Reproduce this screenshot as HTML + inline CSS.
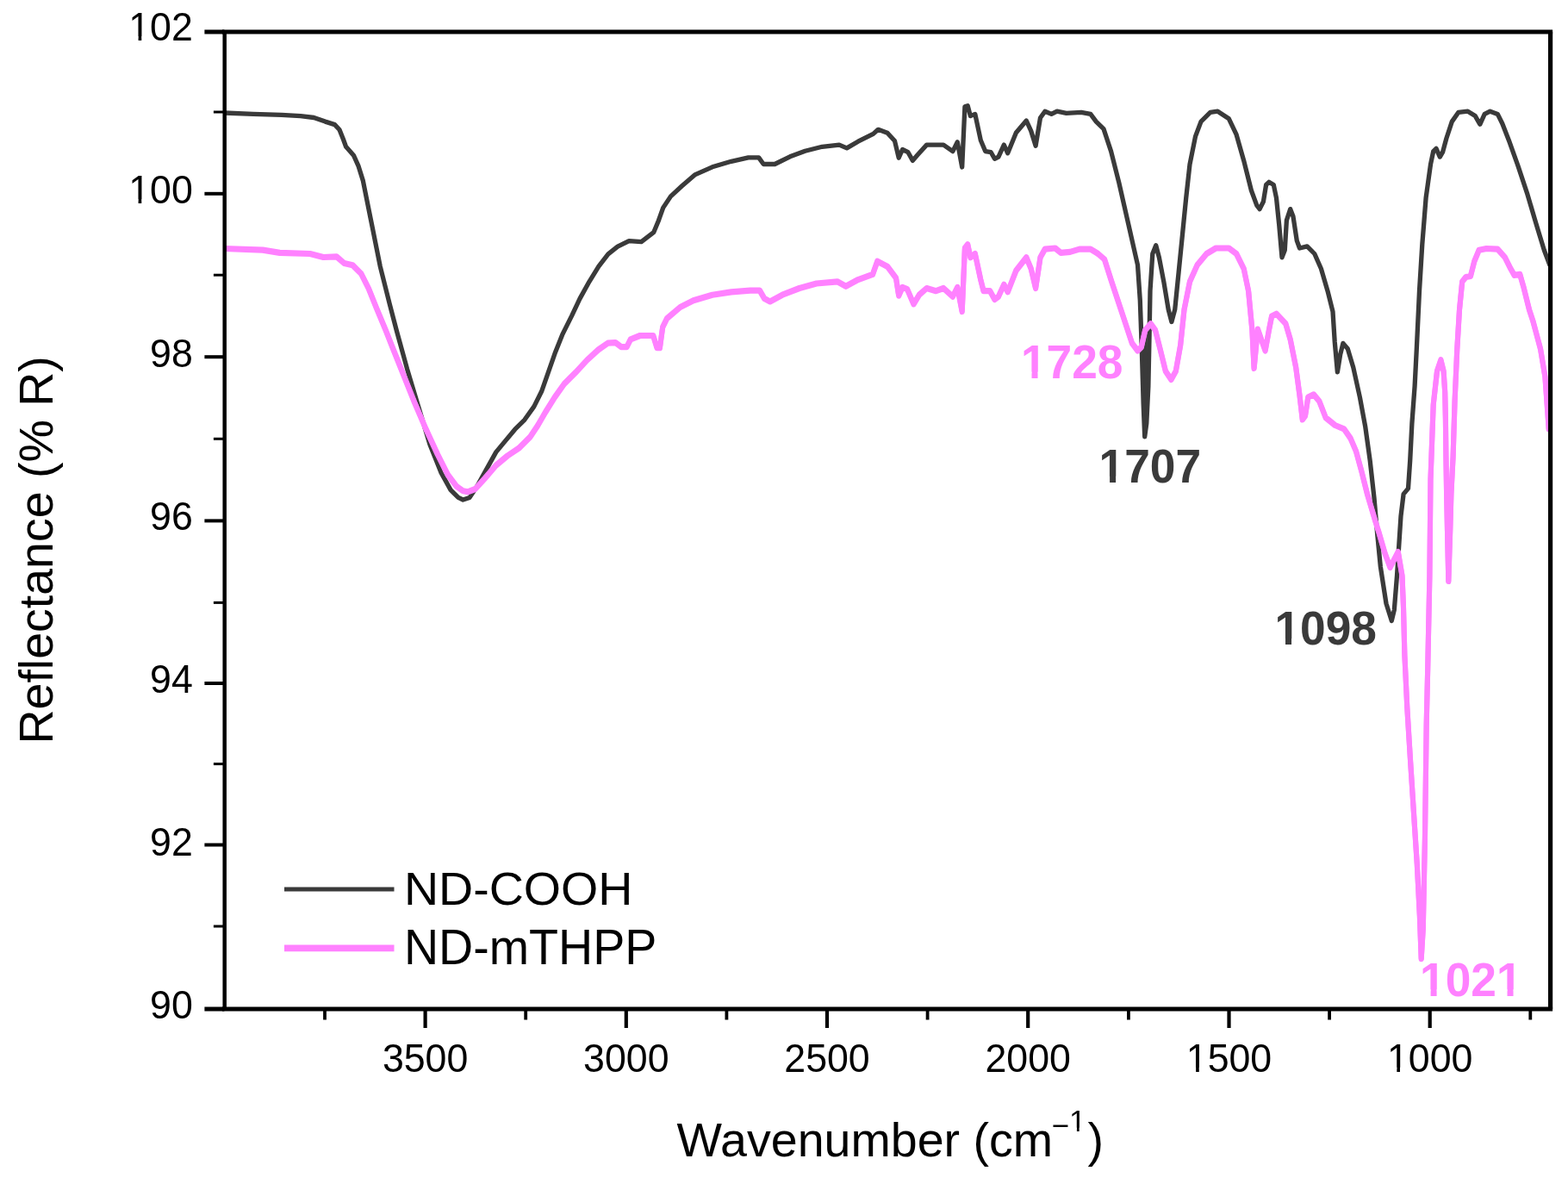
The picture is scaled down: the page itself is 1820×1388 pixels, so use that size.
<!DOCTYPE html>
<html lang="en"><head><meta charset="utf-8"><title>FTIR spectra: ND-COOH vs ND-mTHPP</title>
<style>
html,body{margin:0;padding:0;background:#ffffff;}
body{width:1820px;height:1388px;overflow:hidden;}
svg{display:block;}
text{font-family:"Liberation Sans",sans-serif;fill:#000;}
.tk{font-size:44.7px;}
.ti{font-size:55.6px;}
.lg{font-size:55.6px;}
.pk{font-size:53.3px;font-weight:bold;}
.ax{stroke:#000000;stroke-width:5.0;fill:none;stroke-linecap:butt;}
.cv{fill:none;stroke-linejoin:round;stroke-linecap:round;}
</style></head><body>
<svg width="1820" height="1388" viewBox="0 0 1820 1388">
<rect x="0" y="0" width="1820" height="1388" fill="#ffffff"/>
<defs><clipPath id="plot"><rect x="260.4" y="37.0" width="1539.2" height="1134.0"/></clipPath></defs>
<g clip-path="url(#plot)">
<path class="cv" stroke="#3a3a3a" stroke-width="5.3" d="M260.4 131.0 L294.0 132.3 L326.9 133.4 L348.9 134.7 L364.3 136.5 L377.5 141.1 L388.5 144.6 L394.0 150.5 L398.4 161.5 L401.6 170.3 L410.4 180.2 L415.9 192.3 L421.4 209.9 L425.8 231.9 L432.4 264.8 L441.2 308.8 L452.2 352.7 L460.4 384.0 L472.5 427.9 L485.7 471.9 L498.9 515.8 L512.1 548.8 L523.1 568.6 L531.9 577.4 L537.4 580.0 L545.1 577.4 L553.8 564.2 L564.8 544.4 L575.8 524.6 L586.8 511.4 L597.8 498.2 L608.8 487.3 L619.8 471.9 L628.6 454.3 L636.3 432.3 L644.0 410.3 L652.7 388.4 L663.7 366.4 L673.0 346.6 L684.0 326.8 L694.9 309.2 L705.9 294.9 L716.9 286.2 L730.1 279.6 L744.4 280.7 L758.7 269.7 L764.2 256.5 L769.7 241.1 L778.5 227.9 L791.6 215.8 L807.0 202.6 L826.8 193.8 L848.8 187.3 L868.6 182.9 L880.7 182.9 L886.2 190.5 L899.3 190.5 L916.9 181.8 L934.5 175.2 L954.3 170.3 L974.1 168.1 L982.9 171.9 L996.0 164.2 L1013.6 155.4 L1019.3 150.3 L1030.0 154.2 L1038.5 163.5 L1043.2 183.2 L1047.5 173.5 L1054.0 176.7 L1059.4 186.4 L1064.8 180.0 L1075.6 168.1 L1095.1 168.1 L1105.9 175.6 L1111.3 164.8 L1116.7 194.0 L1119.9 123.8 L1123.2 122.7 L1126.4 134.6 L1131.8 132.4 L1138.3 162.7 L1143.7 175.6 L1150.2 176.7 L1154.5 184.3 L1158.9 182.1 L1165.3 168.1 L1169.7 177.8 L1179.4 154.0 L1191.3 140.0 L1196.7 151.9 L1202.1 169.2 L1207.5 136.7 L1212.9 129.2 L1220.4 132.4 L1226.9 129.2 L1237.7 131.3 L1255.0 130.3 L1265.8 132.4 L1272.3 141.1 L1281.0 149.7 L1289.6 175.6 L1298.9 212.4 L1309.7 259.9 L1320.5 307.5 L1323.3 348.5 L1325.3 404.8 L1327.2 469.7 L1328.7 506.8 L1330.8 491.3 L1332.9 448.0 L1334.2 383.2 L1335.0 337.7 L1337.8 294.5 L1341.7 284.8 L1345.4 298.8 L1350.8 326.9 L1356.2 359.4 L1359.9 373.5 L1363.7 359.4 L1368.1 316.1 L1372.4 272.9 L1376.7 229.7 L1381.0 190.8 L1387.5 158.4 L1394.0 141.1 L1404.8 130.3 L1413.4 129.2 L1426.4 137.8 L1435.1 156.2 L1443.7 186.4 L1452.4 221.0 L1458.8 238.3 L1462.1 242.6 L1466.4 234.0 L1469.6 214.5 L1472.9 211.3 L1478.3 214.5 L1481.5 229.7 L1484.8 262.1 L1488.0 298.8 L1491.3 290.2 L1493.4 255.6 L1497.7 242.6 L1501.0 251.3 L1505.3 279.4 L1508.5 288.0 L1517.2 285.9 L1525.8 294.5 L1533.4 311.8 L1541.0 337.7 L1547.0 361.6 L1549.2 396.2 L1552.4 431.9 L1555.7 411.3 L1558.9 398.4 L1564.3 404.8 L1570.8 426.5 L1578.4 461.0 L1584.8 495.6 L1590.2 534.5 L1595.0 577.7 L1598.8 621.0 L1602.3 657.3 L1609.0 700.5 L1615.3 720.5 L1618.3 708.0 L1621.5 668.1 L1624.3 624.8 L1626.0 599.0 L1629.1 573.4 L1634.5 566.9 L1636.7 534.5 L1638.9 491.3 L1642.1 448.1 L1644.3 404.8 L1647.5 337.7 L1650.8 283.7 L1655.1 229.7 L1660.5 190.8 L1663.7 175.6 L1667.0 172.4 L1671.3 182.1 L1674.5 176.7 L1678.9 160.5 L1685.3 141.1 L1692.9 130.3 L1703.7 129.2 L1712.3 134.6 L1717.8 144.3 L1723.2 132.4 L1729.6 129.2 L1738.3 132.4 L1743.7 143.2 L1751.3 162.7 L1762.1 192.9 L1772.9 225.4 L1783.7 262.1 L1792.3 290.2 L1798.8 307.5"/>
<path class="cv" stroke="#3a3a3a" stroke-width="4.6" d="M1329.5 386 L1329.6 440 L1329.2 496"/>
<path class="cv" stroke="#ff81ff" stroke-width="6.1" transform="translate(0 -0.55)" d="M260.4 288.5 L305.0 290.1 L324.7 293.4 L359.9 294.5 L375.3 298.5 L390.7 297.8 L399.5 305.5 L409.3 307.7 L419.2 317.6 L428.0 335.2 L436.8 357.1 L447.8 383.5 L454.9 401.5 L468.1 434.5 L481.3 467.5 L494.5 498.2 L507.7 526.8 L519.8 551.0 L529.7 564.2 L537.4 569.7 L542.9 570.8 L551.6 567.5 L562.6 555.4 L575.8 540.0 L589.0 529.0 L602.2 520.2 L615.4 507.0 L624.2 493.8 L633.0 478.5 L644.0 460.9 L654.9 445.5 L668.1 432.3 L681.3 418.0 L694.5 405.9 L705.5 398.2 L714.3 397.6 L720.9 402.6 L727.5 402.6 L731.9 393.8 L742.9 389.5 L758.2 389.5 L762.6 403.7 L765.9 403.7 L769.2 379.6 L774.1 369.7 L789.5 356.5 L804.8 348.8 L826.8 342.2 L848.8 338.9 L870.8 337.1 L881.8 337.1 L887.3 346.6 L893.8 349.9 L908.1 342.2 L927.9 334.5 L947.7 329.0 L971.9 326.8 L981.8 332.3 L996.0 324.6 L1013.0 318.3 L1018.4 303.2 L1030.3 309.6 L1040.0 322.6 L1043.2 343.1 L1047.5 333.4 L1053.0 335.6 L1060.5 352.9 L1067.0 342.1 L1075.6 334.5 L1086.4 337.7 L1095.1 334.5 L1105.9 344.2 L1111.3 333.4 L1116.7 361.5 L1119.9 288.0 L1123.2 283.7 L1126.4 298.8 L1131.8 294.5 L1138.3 324.8 L1141.6 337.7 L1149.1 337.7 L1154.5 347.5 L1158.9 344.2 L1165.3 330.2 L1169.7 338.8 L1179.4 314.0 L1191.3 298.8 L1196.7 311.8 L1202.1 334.5 L1207.5 298.8 L1212.9 289.1 L1224.8 288.0 L1231.3 293.4 L1242.1 292.4 L1252.9 289.1 L1265.8 289.1 L1274.5 294.5 L1282.0 301.0 L1290.3 326.9 L1301.1 359.4 L1314.0 398.4 L1320.5 407.0 L1324.8 402.7 L1329.2 383.2 L1335.6 375.7 L1341.0 383.2 L1346.5 404.8 L1352.9 430.8 L1359.4 440.5 L1364.8 430.8 L1370.2 400.5 L1374.5 359.4 L1381.0 326.9 L1389.7 307.5 L1400.5 294.5 L1411.3 288.0 L1426.4 288.0 L1435.1 294.5 L1443.7 311.8 L1449.1 337.7 L1453.4 383.2 L1455.6 427.5 L1459.9 382.1 L1468.6 407.0 L1472.9 383.2 L1476.1 367.0 L1481.5 364.2 L1492.3 375.7 L1497.7 394.0 L1504.2 426.5 L1508.5 458.9 L1511.8 487.0 L1515.0 482.6 L1518.3 461.0 L1524.8 457.8 L1531.2 465.4 L1538.8 484.8 L1549.6 493.5 L1560.0 497.8 L1567.5 508.6 L1574.0 523.7 L1580.5 547.5 L1587.0 573.4 L1596.0 603.7 L1600.5 618.0 L1607.5 642.1 L1613.5 658.5 L1622.8 640.5 L1627.5 668.1 L1629.0 705.0 L1630.4 760.6 L1633.3 821.2 L1637.0 881.8 L1640.9 942.4 L1644.8 1003.0 L1647.9 1063.6 L1649.7 1112.6 L1651.8 1077.7 L1654.0 969.7 L1655.7 840.0 L1657.2 776.1 L1659.4 668.1 L1660.5 556.1 L1663.7 469.7 L1668.0 430.8 L1672.4 417.8 L1675.6 430.8 L1677.2 455.0 L1677.9 486.5 L1678.4 529.7 L1679.1 572.9 L1680.0 616.1 L1681.3 674.5 L1683.2 616.1 L1684.4 572.9 L1686.6 529.7 L1688.6 464.9 L1691.3 404.8 L1694.0 359.4 L1697.2 326.9 L1701.5 321.5 L1706.9 320.5 L1711.3 303.2 L1716.7 290.2 L1725.3 288.5 L1738.3 289.1 L1746.9 298.8 L1753.4 311.8 L1757.7 319.4 L1764.2 318.3 L1768.5 333.4 L1775.0 359.4 L1779.3 372.4 L1788.0 404.8 L1793.4 437.3 L1797.7 497.8"/>
<path class="cv" stroke="#ff81ff" stroke-width="6.1" transform="translate(0 0.55)" d="M260.4 288.5 L305.0 290.1 L324.7 293.4 L359.9 294.5 L375.3 298.5 L390.7 297.8 L399.5 305.5 L409.3 307.7 L419.2 317.6 L428.0 335.2 L436.8 357.1 L447.8 383.5 L454.9 401.5 L468.1 434.5 L481.3 467.5 L494.5 498.2 L507.7 526.8 L519.8 551.0 L529.7 564.2 L537.4 569.7 L542.9 570.8 L551.6 567.5 L562.6 555.4 L575.8 540.0 L589.0 529.0 L602.2 520.2 L615.4 507.0 L624.2 493.8 L633.0 478.5 L644.0 460.9 L654.9 445.5 L668.1 432.3 L681.3 418.0 L694.5 405.9 L705.5 398.2 L714.3 397.6 L720.9 402.6 L727.5 402.6 L731.9 393.8 L742.9 389.5 L758.2 389.5 L762.6 403.7 L765.9 403.7 L769.2 379.6 L774.1 369.7 L789.5 356.5 L804.8 348.8 L826.8 342.2 L848.8 338.9 L870.8 337.1 L881.8 337.1 L887.3 346.6 L893.8 349.9 L908.1 342.2 L927.9 334.5 L947.7 329.0 L971.9 326.8 L981.8 332.3 L996.0 324.6 L1013.0 318.3 L1018.4 303.2 L1030.3 309.6 L1040.0 322.6 L1043.2 343.1 L1047.5 333.4 L1053.0 335.6 L1060.5 352.9 L1067.0 342.1 L1075.6 334.5 L1086.4 337.7 L1095.1 334.5 L1105.9 344.2 L1111.3 333.4 L1116.7 361.5 L1119.9 288.0 L1123.2 283.7 L1126.4 298.8 L1131.8 294.5 L1138.3 324.8 L1141.6 337.7 L1149.1 337.7 L1154.5 347.5 L1158.9 344.2 L1165.3 330.2 L1169.7 338.8 L1179.4 314.0 L1191.3 298.8 L1196.7 311.8 L1202.1 334.5 L1207.5 298.8 L1212.9 289.1 L1224.8 288.0 L1231.3 293.4 L1242.1 292.4 L1252.9 289.1 L1265.8 289.1 L1274.5 294.5 L1282.0 301.0 L1290.3 326.9 L1301.1 359.4 L1314.0 398.4 L1320.5 407.0 L1324.8 402.7 L1329.2 383.2 L1335.6 375.7 L1341.0 383.2 L1346.5 404.8 L1352.9 430.8 L1359.4 440.5 L1364.8 430.8 L1370.2 400.5 L1374.5 359.4 L1381.0 326.9 L1389.7 307.5 L1400.5 294.5 L1411.3 288.0 L1426.4 288.0 L1435.1 294.5 L1443.7 311.8 L1449.1 337.7 L1453.4 383.2 L1455.6 427.5 L1459.9 382.1 L1468.6 407.0 L1472.9 383.2 L1476.1 367.0 L1481.5 364.2 L1492.3 375.7 L1497.7 394.0 L1504.2 426.5 L1508.5 458.9 L1511.8 487.0 L1515.0 482.6 L1518.3 461.0 L1524.8 457.8 L1531.2 465.4 L1538.8 484.8 L1549.6 493.5 L1560.0 497.8 L1567.5 508.6 L1574.0 523.7 L1580.5 547.5 L1587.0 573.4 L1596.0 603.7 L1600.5 618.0 L1607.5 642.1 L1613.5 658.5 L1622.8 640.5 L1627.5 668.1 L1629.0 705.0 L1630.4 760.6 L1633.3 821.2 L1637.0 881.8 L1640.9 942.4 L1644.8 1003.0 L1647.9 1063.6 L1649.7 1112.6 L1651.8 1077.7 L1654.0 969.7 L1655.7 840.0 L1657.2 776.1 L1659.4 668.1 L1660.5 556.1 L1663.7 469.7 L1668.0 430.8 L1672.4 417.8 L1675.6 430.8 L1677.2 455.0 L1677.9 486.5 L1678.4 529.7 L1679.1 572.9 L1680.0 616.1 L1681.3 674.5 L1683.2 616.1 L1684.4 572.9 L1686.6 529.7 L1688.6 464.9 L1691.3 404.8 L1694.0 359.4 L1697.2 326.9 L1701.5 321.5 L1706.9 320.5 L1711.3 303.2 L1716.7 290.2 L1725.3 288.5 L1738.3 289.1 L1746.9 298.8 L1753.4 311.8 L1757.7 319.4 L1764.2 318.3 L1768.5 333.4 L1775.0 359.4 L1779.3 372.4 L1788.0 404.8 L1793.4 437.3 L1797.7 497.8"/>
</g>
<line class="ax" x1="257.9" y1="37.0" x2="1802.1" y2="37.0"/>
<line class="ax" x1="257.9" y1="1171.0" x2="1802.1" y2="1171.0"/>
<line class="ax" x1="1799.6" y1="37.0" x2="1799.6" y2="1171.0" style="stroke-width:5.2"/>
<line class="ax" x1="260.7" y1="37.0" x2="260.7" y2="1171.0" style="stroke-width:4.5"/>
<line x1="237.4" y1="1171.0" x2="260.4" y2="1171.0" stroke="#000" stroke-width="5.0"/>
<line x1="247.9" y1="1075.0" x2="260.4" y2="1075.0" stroke="#000" stroke-width="3.0"/>
<line x1="237.4" y1="980.5" x2="260.4" y2="980.5" stroke="#000" stroke-width="4.0"/>
<line x1="247.9" y1="886.6" x2="260.4" y2="886.6" stroke="#000" stroke-width="3.0"/>
<line x1="237.4" y1="793.0" x2="260.4" y2="793.0" stroke="#000" stroke-width="4.0"/>
<line x1="247.9" y1="699.4" x2="260.4" y2="699.4" stroke="#000" stroke-width="3.0"/>
<line x1="237.4" y1="604.4" x2="260.4" y2="604.4" stroke="#000" stroke-width="4.0"/>
<line x1="247.9" y1="509.3" x2="260.4" y2="509.3" stroke="#000" stroke-width="3.0"/>
<line x1="237.4" y1="414.2" x2="260.4" y2="414.2" stroke="#000" stroke-width="4.0"/>
<line x1="247.9" y1="319.2" x2="260.4" y2="319.2" stroke="#000" stroke-width="3.0"/>
<line x1="237.4" y1="224.8" x2="260.4" y2="224.8" stroke="#000" stroke-width="4.0"/>
<line x1="247.9" y1="130.0" x2="260.4" y2="130.0" stroke="#000" stroke-width="3.0"/>
<line x1="237.4" y1="37.0" x2="260.4" y2="37.0" stroke="#000" stroke-width="5.0"/>
<line x1="1776.3" y1="1171.0" x2="1776.3" y2="1183.5" stroke="#000" stroke-width="3.8"/>
<line x1="1659.7" y1="1171.0" x2="1659.7" y2="1193.0" stroke="#000" stroke-width="4.2"/>
<line x1="1543.1" y1="1171.0" x2="1543.1" y2="1183.5" stroke="#000" stroke-width="3.8"/>
<line x1="1426.5" y1="1171.0" x2="1426.5" y2="1193.0" stroke="#000" stroke-width="4.2"/>
<line x1="1309.9" y1="1171.0" x2="1309.9" y2="1183.5" stroke="#000" stroke-width="3.8"/>
<line x1="1193.2" y1="1171.0" x2="1193.2" y2="1193.0" stroke="#000" stroke-width="4.2"/>
<line x1="1076.6" y1="1171.0" x2="1076.6" y2="1183.5" stroke="#000" stroke-width="3.8"/>
<line x1="960.0" y1="1171.0" x2="960.0" y2="1193.0" stroke="#000" stroke-width="4.2"/>
<line x1="843.4" y1="1171.0" x2="843.4" y2="1183.5" stroke="#000" stroke-width="3.8"/>
<line x1="726.8" y1="1171.0" x2="726.8" y2="1193.0" stroke="#000" stroke-width="4.2"/>
<line x1="610.2" y1="1171.0" x2="610.2" y2="1183.5" stroke="#000" stroke-width="3.8"/>
<line x1="493.6" y1="1171.0" x2="493.6" y2="1193.0" stroke="#000" stroke-width="4.2"/>
<line x1="377.0" y1="1171.0" x2="377.0" y2="1183.5" stroke="#000" stroke-width="3.8"/>
<text class="tk" text-anchor="end" transform="translate(223.8 1181.8) scale(1 1.040)">90</text>
<text class="tk" text-anchor="end" transform="translate(223.8 992.8) scale(1 1.040)">92</text>
<text class="tk" text-anchor="end" transform="translate(223.8 804.0) scale(1 1.040)">94</text>
<text class="tk" text-anchor="end" transform="translate(223.8 615.2) scale(1 1.040)">96</text>
<text class="tk" text-anchor="end" transform="translate(223.8 425.8) scale(1 1.040)">98</text>
<text class="tk" text-anchor="end" transform="translate(223.8 236.4) scale(1 1.040)">100</text>
<text class="tk" text-anchor="end" transform="translate(223.8 47.4) scale(1 1.040)">102</text>
<text class="tk" text-anchor="middle" transform="translate(1659.7 1243.8) scale(1 1.040)">1000</text>
<text class="tk" text-anchor="middle" transform="translate(1426.5 1243.8) scale(1 1.040)">1500</text>
<text class="tk" text-anchor="middle" transform="translate(1193.2 1243.8) scale(1 1.040)">2000</text>
<text class="tk" text-anchor="middle" transform="translate(960.0 1243.8) scale(1 1.040)">2500</text>
<text class="tk" text-anchor="middle" transform="translate(726.8 1243.8) scale(1 1.040)">3000</text>
<text class="tk" text-anchor="middle" transform="translate(493.6 1243.8) scale(1 1.040)">3500</text>
<text class="ti" transform="translate(785.6 1341.8) scale(1 0.985)">Wavenumber (cm<tspan font-size="35px" x="434.9" dy="-24.6">−</tspan><tspan font-size="35px" dy="-4.8">1</tspan><tspan x="476.9" dy="29.3">)</tspan></text>
<text class="ti" style="font-size:55.5px" transform="translate(61.4 863.5) rotate(-90) scale(1 0.985)">Reflectance (% R)</text>
<line x1="330" y1="1032.0" x2="457.5" y2="1032.0" stroke="#3a3a3a" stroke-width="5.1"/>
<line x1="330" y1="1100.3" x2="457.5" y2="1100.3" stroke="#ff81ff" stroke-width="7.8"/>
<text class="lg" transform="translate(468.9 1050.3) scale(1 0.975)">ND-COOH</text>
<text class="lg" transform="translate(468.9 1119.2) scale(1 1.030)">ND-mTHPP</text>
<text class="pk" text-anchor="end" style="fill:#ff81ff" transform="translate(1303.5 438.8) scale(1 1.040)">1728</text>
<text class="pk" style="fill:#3a3a3a" transform="translate(1275.5 560.0) scale(1 1.040)">1707</text>
<text class="pk" text-anchor="end" style="fill:#3a3a3a" transform="translate(1598.0 748.3) scale(1 1.040)">1098</text>
<text class="pk" style="fill:#ff81ff" transform="translate(1648.0 1155.5) scale(1 1.040)">1021</text>
<g fill="#ffffff">
<rect x="151.62" y="231.33" width="8.99" height="6.27"/>
<rect x="164.26" y="231.33" width="8.64" height="6.27"/>
<rect x="151.62" y="42.33" width="8.99" height="6.27"/>
<rect x="164.26" y="42.33" width="8.64" height="6.27"/>
<rect x="1612.36" y="1238.73" width="8.99" height="6.27"/>
<rect x="1624.99" y="1238.73" width="8.64" height="6.27"/>
<rect x="1379.15" y="1238.73" width="8.99" height="6.27"/>
<rect x="1391.78" y="1238.73" width="8.64" height="6.27"/>
<rect x="1187.29" y="431.54" width="10.23" height="8.46"/>
<rect x="1204.53" y="431.54" width="9.56" height="8.46"/>
<rect x="1277.86" y="552.74" width="10.23" height="8.46"/>
<rect x="1295.10" y="552.74" width="9.56" height="8.46"/>
<rect x="1481.79" y="741.04" width="10.23" height="8.46"/>
<rect x="1499.03" y="741.04" width="9.56" height="8.46"/>
<rect x="1650.36" y="1148.24" width="10.23" height="8.46"/>
<rect x="1667.60" y="1148.24" width="9.56" height="8.46"/>
<rect x="1739.29" y="1148.24" width="10.23" height="8.46"/>
<rect x="1756.53" y="1148.24" width="9.56" height="8.46"/>
<rect x="1242.61" y="1308.72" width="7.29" height="5.38"/>
<rect x="1252.68" y="1308.72" width="7.01" height="5.38"/>
</g>
</svg>
</body></html>
